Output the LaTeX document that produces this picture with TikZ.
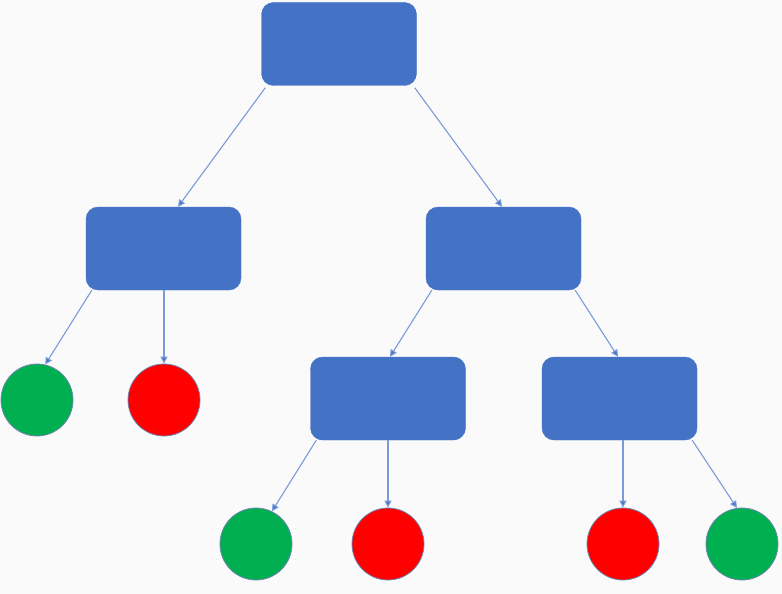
\documentclass[tikz,border=0pt]{standalone}
\usetikzlibrary{arrows.meta,calc}
\definecolor{boxblue}{HTML}{4472C4}
\definecolor{linkblue}{HTML}{7A9BD8}
\definecolor{rimblue}{HTML}{2F528F}
\definecolor{okgreen}{HTML}{00B050}
\definecolor{badred}{HTML}{FF0000}
\definecolor{bg}{HTML}{FAFAFA}
\begin{document}
\begin{tikzpicture}[x=1pt,y=-1pt,
  box/.style={draw=boxblue,fill=boxblue,rounded corners=12pt,minimum width=155pt,minimum height=83pt,inner sep=0pt},
  leafg/.style={circle,draw=rimblue!70,line width=0.8pt,fill=okgreen,minimum size=72pt,inner sep=0pt},
  leafr/.style={circle,draw=rimblue!70,line width=0.8pt,fill=badred,minimum size=72pt,inner sep=0pt},
  link/.style={draw=linkblue,line width=1.1pt,-{Triangle[length=7pt,width=7pt,fill=boxblue]}}]
\fill[bg] (0,0) rectangle (782,594);
\useasboundingbox (0,0) rectangle (782,594);
\node[box] (root) at (339,44) {};
\node[box] (L) at (163.5,248.5) {};
\node[box] (R) at (503.5,248.5) {};
\node[box] (RL) at (388,398.5) {};
\node[box] (RR) at (619.5,398.5) {};
\node[leafg] (g1) at (37,400) {};
\node[leafr] (r1) at (164,400) {};
\node[leafg] (g2) at (256,544) {};
\node[leafr] (r2) at (388,544) {};
\node[leafr] (r3) at (623,544) {};
\node[leafg] (g3) at (742,544) {};
\draw[link] ([xshift=4pt,yshift=-2pt]root.south west) -- ([xshift=14.5pt]L.north);
\draw[link] ([xshift=-2pt,yshift=-2pt]root.south east) -- ([xshift=-1.5pt]R.north);
\draw[link] ([xshift=6pt]L.south west) -- (g1.77);
\draw[link] ([xshift=0.5pt]L.south) -- (r1.north);
\draw[link] ([xshift=6pt]R.south west) -- ([xshift=2pt]RL.north);
\draw[link] ([xshift=-6pt]R.south east) -- ([xshift=-1.5pt]RR.north);
\draw[link] ([xshift=6pt]RL.south west) -- (g2.64);
\draw[link] (RL.south) -- (r2.north);
\draw[link] ([xshift=3.5pt]RR.south) -- (r3.north);
\draw[link] ([xshift=-5pt]RR.south east) -- (g3.98);
\end{tikzpicture}
\end{document}
